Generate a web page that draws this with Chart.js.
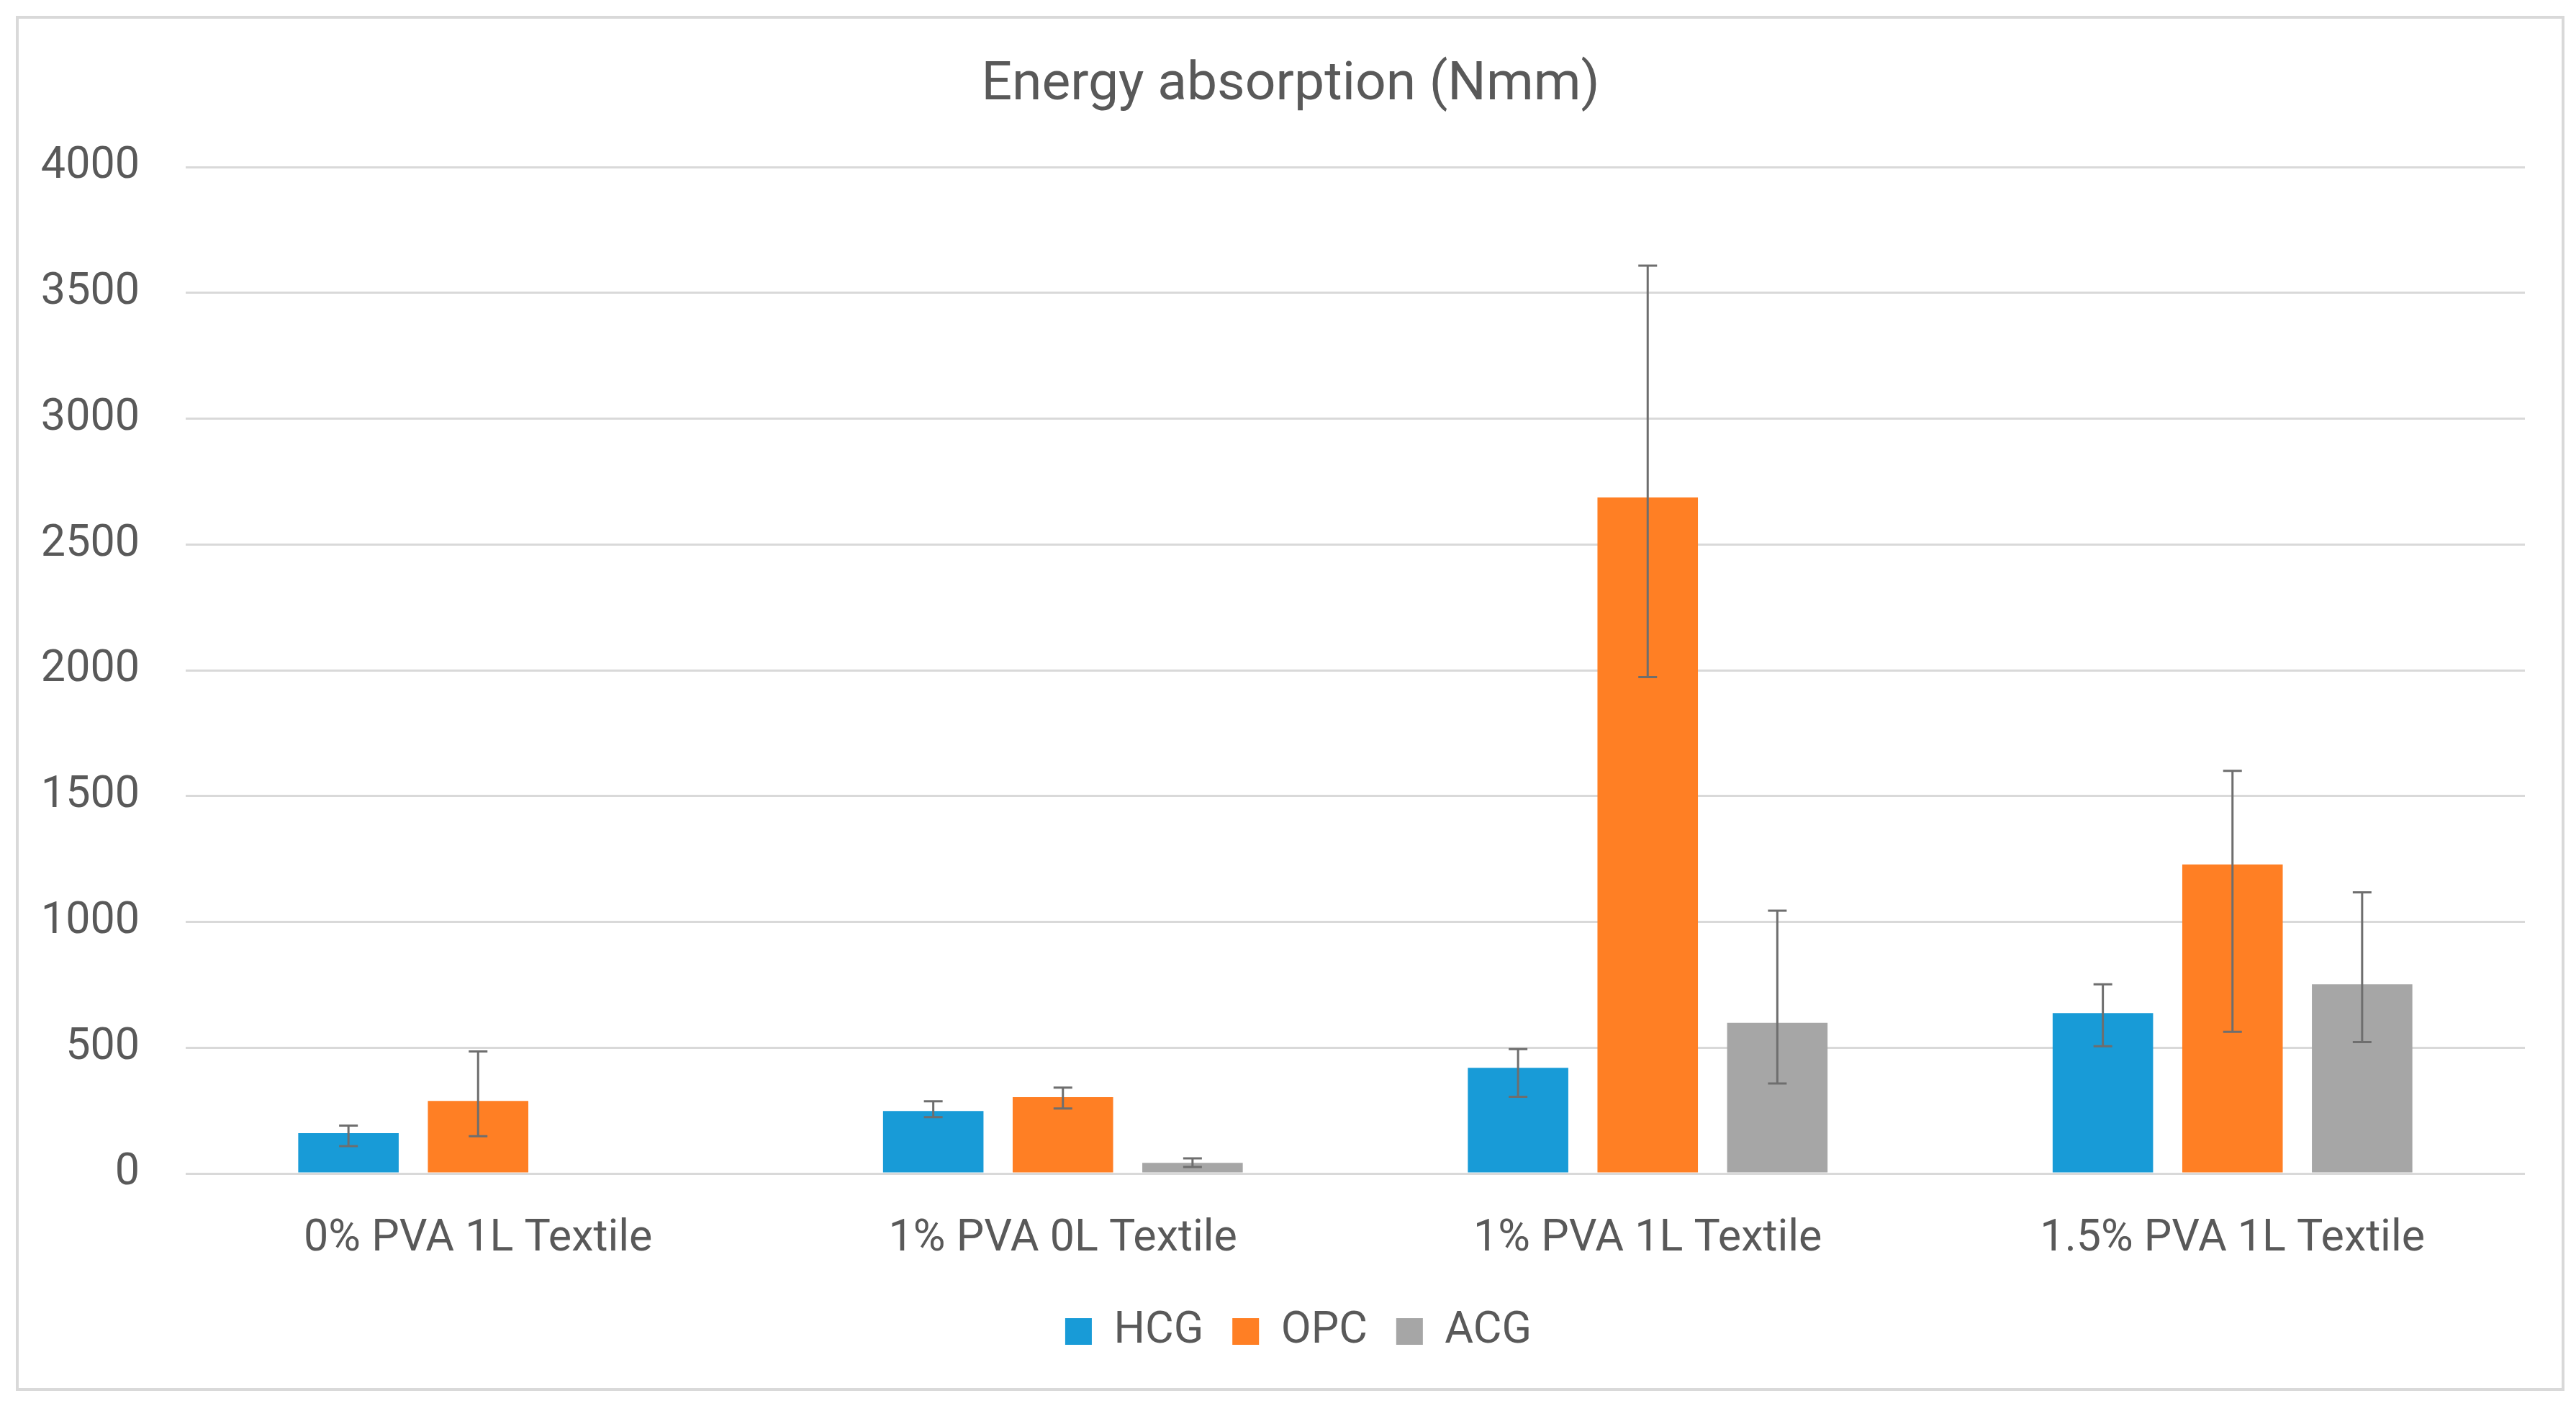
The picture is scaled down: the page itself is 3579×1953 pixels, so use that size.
<!DOCTYPE html>
<html>
<head>
<meta charset="utf-8">
<script src="https://cdn.jsdelivr.net/npm/chart.js@4"></script>
<style>
    html, body { margin: 0; padding: 0; background: #fff; }
    #wrap { width: 3579px; height: 1953px; position: relative; }
</style>
</head>
<body>
<div id="wrap"><canvas id="energyChart"></canvas></div>
<script>
// categories and series (Nmm)
const categories = ['0% PVA 1L Textile', '1% PVA 0L Textile', '1% PVA 1L Textile', '1.5% PVA 1L Textile'];
const seriesNames = ['HCG', 'OPC', 'ACG'];

const hcg = [160, 248, 420, 637];
const opc = [288, 303, 2687, 1228];
const acg = [null, 42, 599, 752];

// error bar ends (upper / lower)
const hcgHigh = [190, 287, 494, 752];
const hcgLow = [109, 224, 305, 506];
const opcHigh = [485, 341, 3608, 1600];
const opcLow = [148, 258, 1973, 563];
const acgHigh = [null, 60, 1044, 1117];
const acgLow = [null, 26, 358, 522];

const yTicks = [0, 500, 1000, 1500, 2000, 2500, 3000, 3500, 4000];

const colors = ['#189BD7', '#FF7F24', '#A6A6A6'];
const textColor = '#595959';
const gridColor = '#D9D9D9';

const errorBars = {
    id: 'errorBars',
    afterDatasetsDraw(chart) {
        const ctx = chart.ctx;
        const y = chart.scales.y;
        ctx.save();
        ctx.strokeStyle = '#6E6E6E';
        ctx.lineWidth = 3;
        chart.data.datasets.forEach((ds, i) => {
            const meta = chart.getDatasetMeta(i);
            ds.errHigh.forEach((hi, j) => {
                const lo = ds.errLow[j];
                if (hi == null || lo == null) return;
                const x = meta.data[j].x;
                const yHi = y.getPixelForValue(hi);
                const yLo = y.getPixelForValue(lo);
                const cap = 13;
                ctx.beginPath();
                ctx.moveTo(x, yHi); ctx.lineTo(x, yLo);
                ctx.moveTo(x - cap, yHi); ctx.lineTo(x + cap, yHi);
                ctx.moveTo(x - cap, yLo); ctx.lineTo(x + cap, yLo);
                ctx.stroke();
            });
        });
        ctx.restore();
    }
};

const frame = {
    id: 'frame',
    afterLayout(chart) {
        // nudge title and legend right, as in the original
        chart.titleBlock.left += 19;
        chart.titleBlock.right += 19;
        chart.legend.left += 30;
        chart.legend.right += 30;
    },
    beforeDraw(chart) {
        const ctx = chart.ctx;
        ctx.save();
        ctx.fillStyle = '#fff';
        ctx.fillRect(0, 0, chart.width, chart.height);
        ctx.strokeStyle = gridColor;
        ctx.lineWidth = 4;
        ctx.strokeRect(24, 24, 3537, 1906);
        ctx.restore();
    }
};

new Chart(document.getElementById('energyChart'), {
    type: 'bar',
    data: {
        labels: categories,
        datasets: [
            { label: seriesNames[0], data: hcg, errHigh: hcgHigh, errLow: hcgLow, backgroundColor: colors[0] },
            { label: seriesNames[1], data: opc, errHigh: opcHigh, errLow: opcLow, backgroundColor: colors[1] },
            { label: seriesNames[2], data: acg, errHigh: acgHigh, errLow: acgLow, backgroundColor: colors[2] }
        ]
    },
    options: {
        responsive: true,
        maintainAspectRatio: false,
        devicePixelRatio: 1,
        animation: false,
        categoryPercentage: 0.665,
        barPercentage: 0.775,
        layout: { padding: { left: 40, right: 71, top: 22, bottom: 63 } },
        scales: {
            x: {
                afterFit(scale) { scale.height = 149; },
                grid: { display: false },
                border: { display: false },
                ticks: { color: textColor, font: { family: 'Roboto', size: 61 }, padding: 47 }
            },
            y: {
                min: 0,
                max: 4000,
                afterBuildTicks(scale) { scale.ticks = yTicks.map(v => ({ value: v })); },
                afterFit(scale) { scale.width = 218; },
                grid: { color: gridColor, lineWidth: 3, drawTicks: false },
                border: { display: false },
                ticks: {
                    color: textColor,
                    font: { family: 'Roboto', size: 61 },
                    padding: 64,
                    callback: v => String(v)
                }
            }
        },
        plugins: {
            title: {
                display: true,
                text: 'Energy absorption (Nmm)',
                color: textColor,
                font: { family: 'Roboto', size: 75, weight: 'normal' },
                padding: { top: 52, bottom: 68 }
            },
            legend: {
                position: 'bottom',
                labels: {
                    color: textColor,
                    font: { family: 'Roboto', size: 61 },
                    boxWidth: 37,
                    boxHeight: 37,
                    padding: 40
                }
            },
            tooltip: { enabled: false }
        }
    },
    plugins: [frame, errorBars]
});
</script>
</body>
</html>
